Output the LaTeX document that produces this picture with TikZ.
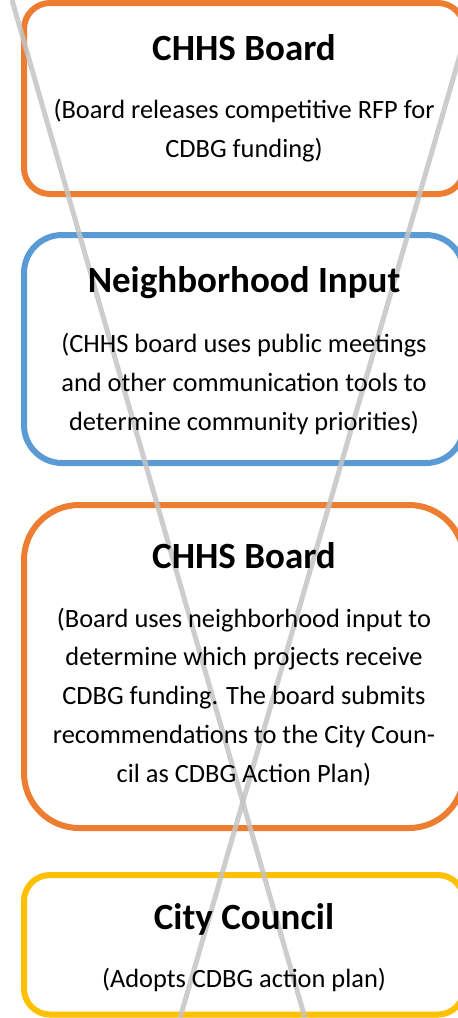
\documentclass[tikz,border=0pt]{standalone}
\usepackage{fontspec}
\setmainfont{Carlito}
\definecolor{bordorange}{RGB}{237,125,49}
\definecolor{bordbleu}{RGB}{91,155,213}
\definecolor{bordjaune}{RGB}{255,192,0}
\definecolor{traitgris}{RGB}{196,196,196}
\tikzset{
  cadre/.style={draw=#1, line width=3pt, rectangle, minimum width=220pt, inner sep=0pt},
  titre/.style={anchor=base, inner sep=0pt, font=\fontsize{18.5}{22}\selectfont\bfseries},
  % la base d'un texte sur plusieurs lignes est celle de sa derniere ligne
  texte/.style={anchor=base, inner sep=0pt, align=center, font=\fontsize{13.2}{19.35}\selectfont},
}
\begin{document}
\begin{tikzpicture}[x=0.5pt, y=-0.5pt]
  \useasboundingbox (0,0) rectangle (458,1018);

  % Les quatre cadres arrondis
  \node[cadre=bordorange, rounded corners=13pt, minimum height=95.5pt] (rfp) at (244,98.5) {};
  \node[cadre=bordbleu, rounded corners=19pt, minimum height=114pt] (input) at (244,349) {};
  \node[cadre=bordorange, rounded corners=27.5pt, minimum height=161.5pt] (board) at (244,666.5) {};
  \node[cadre=bordjaune, rounded corners=13pt, minimum height=69.75pt] (council) at (244,944.75) {};

  % Croix grise en travers
  \coordinate (xa1) at (12,0);
  \coordinate (xa2) at (305,1018);
  \coordinate (xb1) at (476,0);
  \coordinate (xb2) at (180,1018);
  \draw[traitgris, line width=2.5pt, opacity=0.85] (xa1) -- (xa2);
  \draw[traitgris, line width=2.5pt, opacity=0.85] (xb1) -- (xb2);

  % Textes
  \node[titre] (rfp-t) at (244,60) {CHHS Board};
  \node[texte] (rfp-d) at (244,157) {(Board releases competitive RFP for\\CDBG funding)};

  \node[titre] (input-t) at (244,292) {Neighborhood Input};
  \node[texte] (input-d) at (244,430) {(CHHS board uses public meetings\\and other communication tools to\\determine community priorities)};

  \node[titre] (board-t) at (244,568) {CHHS Board};
  \node[texte] (board-d) at (244,782) {(Board uses neighborhood input to\\determine which projects receive\\CDBG funding. The board submits\\recommendations to the City Coun-\\cil as CDBG Action Plan)};

  \node[titre] (council-t) at (244,929) {City Council};
  \node[texte] (council-d) at (244,987) {(Adopts CDBG action plan)};
\end{tikzpicture}
\end{document}
